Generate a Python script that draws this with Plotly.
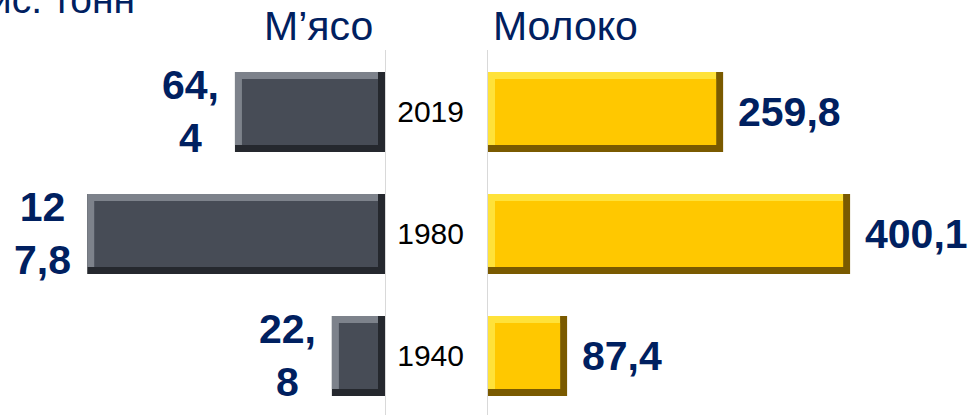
import plotly.graph_objects as go

# ---- data ----
years = ["1940", "1980", "2019"]
meat = [22.8, 127.8, 64.4]
milk = [87.4, 400.1, 259.8]
meat_labels = ["22,<br>8", "12<br>7,8", "64,<br>4"]
milk_labels = ["87,4", "400,1", "259,8"]
meat_title = "М’ясо"
milk_title = "Молоко"
unit_title = "тис. тонн"

# ---- style ----
W, H = 972, 415
T = 50
FONT = "Arial, Liberation Sans, sans-serif"
NAVY = "#002060"
BW = 0.656          # bar width in category units
D_Y = 7 / 122       # bevel in category units
MEAT_MAX = 385 / 2.33
MILK_MAX = 484 / 0.905
D_MEAT = 7 / 2.33
D_MILK = 7 / 0.905

meat_cols = dict(shadow="#25282e", light="#7d828b", face="#474c56")
milk_cols = dict(shadow="#7a5a00", light="#ffe23a", face="#ffc800")

fig = go.Figure()

def px_y(p):
    return (H - p) / (H - T)

# meat bars (left, reversed axis)
fig.add_trace(go.Bar(y=years, x=meat, orientation="h", width=BW,
                     marker=dict(color=meat_cols["shadow"], line=dict(width=0)),
                     xaxis="x", yaxis="y", hoverinfo="skip"))
fig.add_trace(go.Bar(y=years, x=[v - D_MEAT for v in meat], base=D_MEAT, orientation="h",
                     width=BW - D_Y, offset=-BW / 2 + D_Y,
                     marker=dict(color=meat_cols["light"], line=dict(width=0)),
                     xaxis="x", yaxis="y", hoverinfo="skip"))
fig.add_trace(go.Bar(y=years, x=[v - 2 * D_MEAT for v in meat], base=D_MEAT, orientation="h",
                     width=BW - 2 * D_Y, offset=-BW / 2 + D_Y,
                     marker=dict(color=meat_cols["face"], line=dict(width=0)),
                     xaxis="x", yaxis="y", hoverinfo="skip"))

# milk bars (right)
fig.add_trace(go.Bar(y=years, x=milk, orientation="h", width=BW,
                     marker=dict(color=milk_cols["shadow"], line=dict(width=0)),
                     xaxis="x2", yaxis="y2", hoverinfo="skip"))
fig.add_trace(go.Bar(y=years, x=[v - D_MILK for v in milk], orientation="h",
                     width=BW - D_Y, offset=-BW / 2 + D_Y,
                     marker=dict(color=milk_cols["light"], line=dict(width=0)),
                     xaxis="x2", yaxis="y2", hoverinfo="skip"))
fig.add_trace(go.Bar(y=years, x=[v - 2 * D_MILK for v in milk], base=D_MILK, orientation="h",
                     width=BW - 2 * D_Y, offset=-BW / 2 + D_Y,
                     marker=dict(color=milk_cols["face"], line=dict(width=0)),
                     xaxis="x2", yaxis="y2", hoverinfo="skip"))

annotations = []
for y, v, t in zip(years, meat, meat_labels):
    annotations.append(dict(x=v, y=years.index(y), xref="x", yref="y", text="<b>" + t + "</b>",
                            showarrow=False, xanchor="right", yanchor="middle", xshift=-14,
                            align="center",
                            font=dict(family=FONT, size=41, color=NAVY)))
for y, v, t in zip(years, milk, milk_labels):
    annotations.append(dict(x=v, y=years.index(y), xref="x2", yref="y2", text="<b>" + t + "</b>",
                            showarrow=False, xanchor="left", yanchor="middle", xshift=13,
                            font=dict(family=FONT, size=41, color=NAVY)))

annotations.append(dict(x=318 / W, y=px_y(26), xref="paper", yref="paper", text=meat_title,
                        showarrow=False, xanchor="center", yanchor="middle",
                        font=dict(family=FONT, size=41, color=NAVY)))
annotations.append(dict(x=565 / W, y=px_y(26), xref="paper", yref="paper", text=milk_title,
                        showarrow=False, xanchor="center", yanchor="middle",
                        font=dict(family=FONT, size=41, color=NAVY)))
annotations.append(dict(x=137 / W, y=px_y(-1), xref="paper", yref="paper", text=unit_title,
                        showarrow=False, xanchor="right", yanchor="middle",
                        font=dict(family=FONT, size=39, color=NAVY)))

yrange = [-0.484, 2.508]
hidden_x = dict(showticklabels=False, showgrid=False, zeroline=False, showline=False,
                ticks="")
fig.update_layout(
    width=W, height=H,
    margin=dict(l=0, r=0, t=T, b=0, autoexpand=False),
    paper_bgcolor="white", plot_bgcolor="white",
    barmode="overlay", showlegend=False,
    xaxis=dict(domain=[0, 385 / W], range=[MEAT_MAX, 0], anchor="y", **hidden_x),
    yaxis=dict(domain=[0, 1], range=yrange, type="category", categoryorder="array",
               categoryarray=years, side="right", anchor="x", showline=True,
               linecolor="#d9d9d9", linewidth=1, showgrid=False, showticklabels=False,
               ticks=""),
    xaxis2=dict(domain=[488 / W, 1], range=[0, MILK_MAX], anchor="y2", **hidden_x),
    yaxis2=dict(domain=[0, 1], range=yrange, type="category", categoryorder="array",
                categoryarray=years, side="left", anchor="x2", showline=True,
                linecolor="#d9d9d9", linewidth=1, showgrid=False, ticks="",
                ticklabelstandoff=17,
                tickfont=dict(family=FONT, size=30, color="black")),
    annotations=annotations,
)

fig.write_html("out.html", post_script="document.body.style.margin='0';",
               config={"displayModeBar": False})
